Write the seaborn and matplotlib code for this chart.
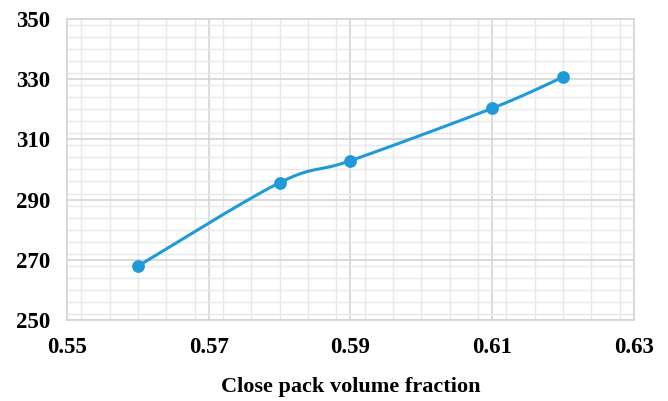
import numpy as np
import pandas as pd
import matplotlib
matplotlib.use("Agg")
import matplotlib.pyplot as plt
from matplotlib.ticker import MultipleLocator
import seaborn as sns

# Data
volume_fraction = [0.56, 0.58, 0.59, 0.61, 0.62]
values = [267.9, 295.6, 302.9, 320.3, 330.7]
x_ticks = [0.55, 0.57, 0.59, 0.61, 0.63]
y_ticks = [250, 270, 290, 310, 330, 350]
x_label = "Close pack volume fraction"

LINE_COLOR = "#1f9ad8"

sns.set_theme(style="white")
plt.rcParams["font.family"] = ["Liberation Serif", "DejaVu Serif"]
plt.rcParams["text.color"] = "black"
plt.rcParams["xtick.color"] = "black"
plt.rcParams["ytick.color"] = "black"
plt.rcParams["axes.labelcolor"] = "black"


def smooth_curve(xs, ys, n=40):
    """Catmull-Rom (Excel-style) smoothing through the data points."""
    p = np.column_stack([xs, ys]).astype(float)
    ext = np.vstack([p[0], p, p[-1]])
    out = []
    for i in range(1, len(ext) - 2):
        p0, p1, p2, p3 = ext[i - 1], ext[i], ext[i + 1], ext[i + 2]
        t = np.linspace(0, 1, n)[:, None]
        c1 = p1 + (p2 - p0) / 6.0
        c2 = p2 - (p3 - p1) / 6.0
        seg = ((1 - t) ** 3) * p1 + 3 * ((1 - t) ** 2) * t * c1 + 3 * (1 - t) * t ** 2 * c2 + t ** 3 * p2
        out.append(seg if i == 1 else seg[1:])
    return np.vstack(out)


df = pd.DataFrame({"x": volume_fraction, "y": values})
curve = smooth_curve(volume_fraction, values)
cdf = pd.DataFrame({"x": curve[:, 0], "y": curve[:, 1]})

fig = plt.figure(figsize=(6.68, 4.01), dpi=100)
ax = fig.add_axes([0.1003, 0.202, 0.8488, 0.751])

sns.lineplot(data=cdf, x="x", y="y", ax=ax, color=LINE_COLOR, linewidth=2.2, sort=False, zorder=3)
sns.scatterplot(data=df, x="x", y="y", ax=ax, color=LINE_COLOR, s=85, edgecolor=LINE_COLOR, linewidth=0, zorder=4)

ax.set_xlim(0.55, 0.63)
ax.set_ylim(250, 350)
ax.set_xticks(x_ticks)
ax.set_yticks(y_ticks)
ax.set_xticklabels([f"{v:.2f}" for v in x_ticks])
ax.set_yticklabels([str(v) for v in y_ticks])
ax.xaxis.set_minor_locator(MultipleLocator(0.004))
ax.yaxis.set_minor_locator(MultipleLocator(4))

ax.grid(which="major", color="#d4d4d4", linewidth=1.2)
ax.grid(which="minor", color="#e8e8e8", linewidth=1.0)
ax.set_axisbelow(True)
for s in ax.spines.values():
    s.set_color("#d4d4d4")
    s.set_linewidth(1.2)

ax.tick_params(axis="both", which="both", length=0)
ax.tick_params(axis="x", pad=12, labelsize=16.5, labelcolor="black")
ax.tick_params(axis="y", pad=12, labelsize=16.5, labelcolor="black")
for lab in ax.get_xticklabels() + ax.get_yticklabels():
    lab.set_fontweight("bold")

ax.set_xlabel(x_label, fontsize=16, fontweight="bold", labelpad=14, color="black")
ax.set_ylabel("")

fig.savefig("out.png", dpi=100)
